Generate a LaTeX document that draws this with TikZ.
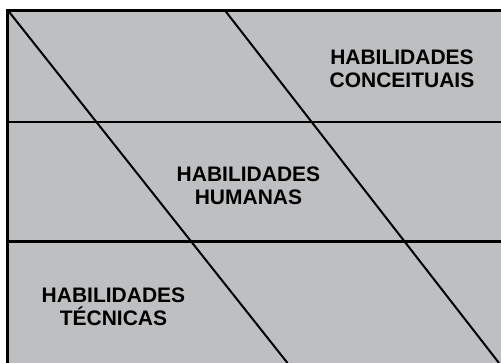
\documentclass[tikz,border=0pt]{standalone}
\usepackage{fontspec}
\setmainfont{Liberation Sans}
\definecolor{panelgray}{RGB}{190,191,193}
\begin{document}
\begin{tikzpicture}[x=1pt,y=-1pt,
  lbl/.style={align=center,inner sep=0pt,font=\fontsize{21}{23.5}\selectfont\bfseries},
  rule/.style={line width=2.3pt,black},
  diag/.style={line width=2pt,black}]
\useasboundingbox (0,0) rectangle (501,363);
\fill[white] (0,0) rectangle (501,363);
\begin{scope}
\clip (0,0) rectangle (501,363);
\fill[panelgray] (7.5,10.5) rectangle (520,380);
\draw[line width=3pt] (7.5,380) -- (7.5,10.5) -- (520,10.5);
\draw[rule] (7.5,121.7) -- (520,121.7);
\draw[rule] (7.5,241.5) -- (520,241.5);
\draw[diag] (8,10.5) -- (287.5,363);
\draw[diag] (225,10.5) -- (499,363);
\end{scope}
\node[lbl] (conc) at (402,69) {HABILIDADES\\CONCEITUAIS};
\node[lbl] (hum) at (248.5,186) {HABILIDADES\\HUMANAS};
\node[lbl] (tec) at (113.5,307) {HABILIDADES\\TÉCNICAS};
\end{tikzpicture}
\end{document}
